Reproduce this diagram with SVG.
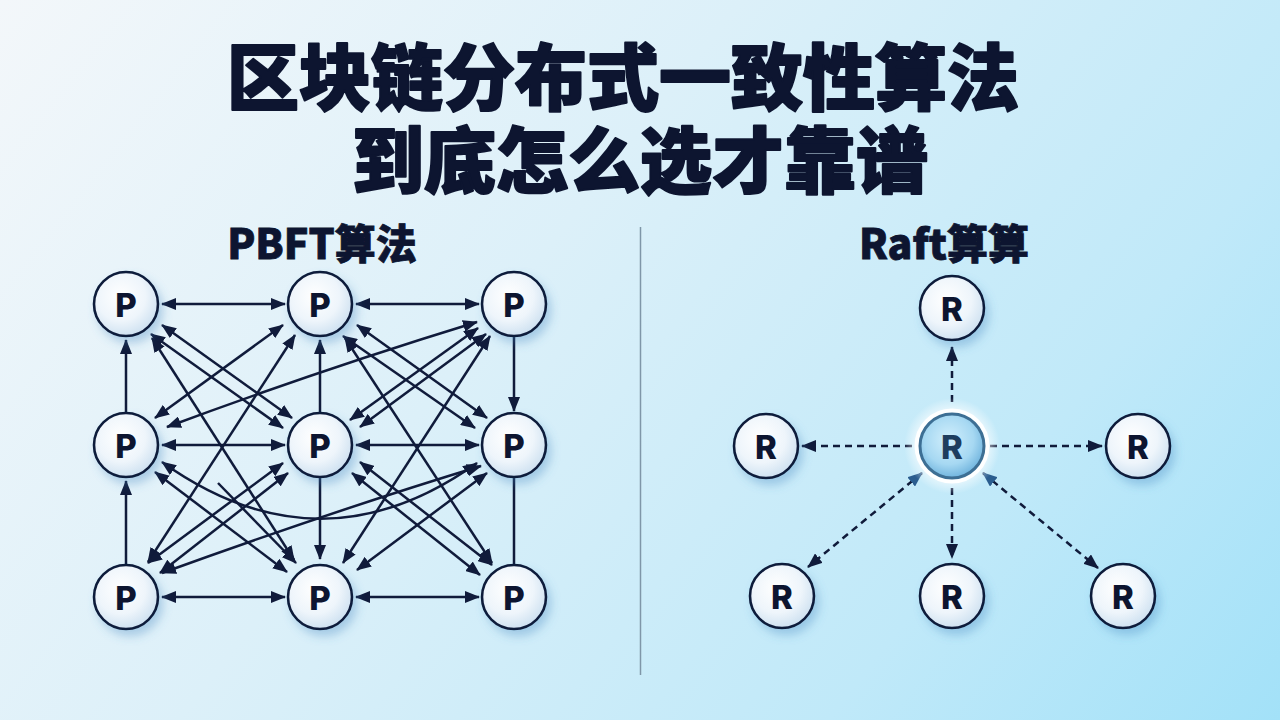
<svg xmlns="http://www.w3.org/2000/svg" width="1280" height="720" viewBox="0 0 1280 720">
<defs>
<linearGradient id="bg" gradientUnits="userSpaceOnUse" x1="0" y1="0" x2="1150" y2="900">
<stop offset="0" stop-color="#f3f7fa"/>
<stop offset="0.4" stop-color="#dcf0f9"/>
<stop offset="0.75" stop-color="#c0e9f9"/>
<stop offset="1" stop-color="#a2e1f8"/>
</linearGradient>
<radialGradient id="nodeFill" cx="0.42" cy="0.38" r="0.7">
<stop offset="0" stop-color="#ffffff"/>
<stop offset="0.55" stop-color="#eef5fb"/>
<stop offset="1" stop-color="#c6dcee"/>
</radialGradient>
<radialGradient id="leaderFill" cx="0.45" cy="0.4" r="0.65">
<stop offset="0" stop-color="#d2effc"/>
<stop offset="0.6" stop-color="#a6d8f2"/>
<stop offset="1" stop-color="#64acd9"/>
</radialGradient>
<radialGradient id="glow" cx="0.5" cy="0.5" r="0.5">
<stop offset="0.6" stop-color="#ffffff" stop-opacity="0.9"/>
<stop offset="1" stop-color="#ffffff" stop-opacity="0"/>
</radialGradient>
<filter id="shadow" x="-50%" y="-50%" width="200%" height="200%">
<feDropShadow dx="4" dy="6" stdDeviation="5" flood-color="#3f86c0" flood-opacity="0.35"/>
</filter>
<marker id="ah" viewBox="0 0 15 12" refX="14" refY="6" markerWidth="15" markerHeight="12" markerUnits="userSpaceOnUse" orient="auto-start-reverse">
<path d="M0,0 L15,6 L0,12 Z" fill="#101b3b"/>
</marker>
<marker id="ahb" viewBox="0 0 15 12" refX="14" refY="6" markerWidth="15" markerHeight="12" markerUnits="userSpaceOnUse" orient="auto-start-reverse">
<path d="M0,0 L15,6 L0,12 Z" fill="#2a5d8f"/>
</marker>
<style>
.title{font-family:"Noto Sans CJK SC","Noto Sans",sans-serif;font-weight:900;font-size:72px;fill:#0d1530;stroke:#0d1530;stroke-width:2;stroke-linejoin:round;text-anchor:middle}
.sub{font-family:"Noto Sans CJK SC","Noto Sans",sans-serif;font-weight:900;font-size:41px;fill:#0d1530;stroke:#0d1530;stroke-width:0.8;text-anchor:middle}
.node{fill:url(#nodeFill);stroke:#101b3b;stroke-width:2.6;filter:url(#shadow)}
.lbl{font-family:"Inter","Open Sans",sans-serif;font-weight:800;font-size:33px;fill:#0d1530;text-anchor:middle;dominant-baseline:central}
.e{fill:none;stroke:#101b3b;stroke-width:2.5;marker-start:url(#ah);marker-end:url(#ah)}
.e1{fill:none;stroke:#101b3b;stroke-width:2.5;marker-end:url(#ah)}
.e0{fill:none;stroke:#101b3b;stroke-width:2.5}
.d{fill:none;stroke:#101b3b;stroke-width:2.5;stroke-dasharray:7 5;marker-end:url(#ah)}
.db{fill:none;stroke:#101b3b;stroke-width:2.5;stroke-dasharray:7 5;marker-start:url(#ahb);marker-end:url(#ah)}
</style>
</defs>
<rect width="1280" height="720" fill="url(#bg)"/>

<g id="title">
<text class="title" x="623" y="104">区块链分布式一致性算法</text>
<text class="title" x="640" y="187">到底怎么选才靠谱</text>
</g>
<g id="subtitles">
<text class="sub" x="322" y="259">PBFT算法</text>
<text class="sub" x="944" y="259">Raft算算</text>
</g>
<line id="divider" x1="640.5" y1="227" x2="640.5" y2="675" stroke="#7f96a8" stroke-width="1.5"/>

<g id="connectors">
<line class="e" x1="162" y1="304" x2="285" y2="304"/>
<line class="e" x1="356" y1="304" x2="479" y2="304"/>
<line class="e" x1="162" y1="445" x2="285" y2="445"/>
<line class="e" x1="356" y1="445" x2="479" y2="445"/>
<line class="e" x1="162" y1="597" x2="285" y2="597"/>
<line class="e" x1="356" y1="597" x2="479" y2="597"/>
<line class="e1" x1="126" y1="413" x2="126" y2="340"/>
<line class="e1" x1="126" y1="565" x2="126" y2="481"/>
<line class="e1" x1="320" y1="413" x2="320" y2="340"/>
<line class="e1" x1="320" y1="478" x2="320" y2="559"/>
<line class="e1" x1="514" y1="337" x2="514" y2="411"/>
<line class="e0" x1="514" y1="478" x2="514" y2="565"/>
<line class="e" x1="162" y1="325" x2="292" y2="418"/>
<line class="e" x1="151" y1="334" x2="283" y2="428"/>
<line class="e" x1="152" y1="338" x2="294" y2="560"/>
<line class="e" x1="283" y1="325" x2="155" y2="418"/>
<line class="e" x1="295" y1="335" x2="148" y2="562"/>
<line class="e" x1="357" y1="325" x2="487" y2="418"/>
<line class="e" x1="343" y1="336" x2="475" y2="428"/>
<line class="e" x1="345" y1="338" x2="492" y2="563"/>
<line class="e" x1="478" y1="328" x2="350" y2="420"/>
<line class="e" x1="486" y1="334" x2="360" y2="427"/>
<line class="e" x1="490" y1="336" x2="343" y2="563"/>
<path class="e" d="M167,427 Q 320,370 477,322"/>
<line class="e" x1="283" y1="463" x2="148" y2="563"/>
<line class="e" x1="288" y1="473" x2="160" y2="573"/>
<line class="e" x1="360" y1="462" x2="492" y2="565"/>
<line class="e" x1="352" y1="473" x2="480" y2="575"/>
<line class="e" x1="487" y1="473" x2="357" y2="570"/>
<line class="e" x1="155" y1="472" x2="287" y2="572"/>
<path class="e" d="M162,462 Q 320,575 477,463"/>
<path class="e" d="M162,573 Q 330,512 481,466"/>
<line class="e1" x1="218" y1="483" x2="296" y2="563"/>
<line class="d" x1="952" y1="402" x2="952" y2="347"/>
<line class="d" x1="912" y1="446" x2="802" y2="446"/>
<line class="d" x1="990" y1="446" x2="1102" y2="446"/>
<line class="d" x1="952" y1="488" x2="952" y2="558"/>
<line class="db" x1="922" y1="473" x2="808" y2="567"/>
<line class="db" x1="983" y1="473" x2="1098" y2="568"/>
</g>

<g id="pbft-A"><circle class="node" cx="126" cy="304" r="32"/><text class="lbl" x="126" y="305">P</text></g>
<g id="pbft-B"><circle class="node" cx="320" cy="304" r="32"/><text class="lbl" x="320" y="305">P</text></g>
<g id="pbft-C"><circle class="node" cx="514" cy="304" r="32"/><text class="lbl" x="514" y="305">P</text></g>
<g id="pbft-D"><circle class="node" cx="126" cy="445" r="32"/><text class="lbl" x="126" y="446">P</text></g>
<g id="pbft-E"><circle class="node" cx="320" cy="445" r="32"/><text class="lbl" x="320" y="446">P</text></g>
<g id="pbft-F"><circle class="node" cx="514" cy="445" r="32"/><text class="lbl" x="514" y="446">P</text></g>
<g id="pbft-G"><circle class="node" cx="126" cy="597" r="32"/><text class="lbl" x="126" y="598">P</text></g>
<g id="pbft-H"><circle class="node" cx="320" cy="597" r="32"/><text class="lbl" x="320" y="598">P</text></g>
<g id="pbft-I"><circle class="node" cx="514" cy="597" r="32"/><text class="lbl" x="514" y="598">P</text></g>

<g id="raft-top"><circle class="node" cx="952" cy="308" r="32"/><text class="lbl" x="952" y="309">R</text></g>
<g id="raft-left"><circle class="node" cx="766" cy="446" r="32"/><text class="lbl" x="766" y="447">R</text></g>
<g id="raft-right"><circle class="node" cx="1138" cy="446" r="32"/><text class="lbl" x="1138" y="447">R</text></g>
<g id="raft-bl"><circle class="node" cx="782" cy="596" r="32"/><text class="lbl" x="782" y="597">R</text></g>
<g id="raft-bm"><circle class="node" cx="952" cy="596" r="32"/><text class="lbl" x="952" y="597">R</text></g>
<g id="raft-br"><circle class="node" cx="1123" cy="596" r="32"/><text class="lbl" x="1123" y="597">R</text></g>
<g id="raft-leader">
<circle cx="952" cy="446" r="48" fill="url(#glow)"/>
<circle cx="952" cy="446" r="35" fill="none" stroke="#ffffff" stroke-width="5" opacity="0.95"/>
<circle cx="952" cy="446" r="32" fill="url(#leaderFill)" stroke="#3d6f94" stroke-width="3"/>
<text class="lbl" x="952" y="447" style="fill:#1e3d5e">R</text>
</g>
</svg>
